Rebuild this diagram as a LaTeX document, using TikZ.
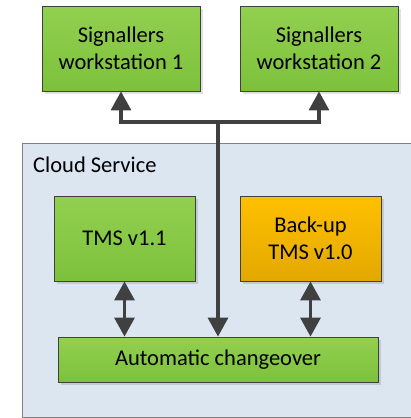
\documentclass[tikz,border=0pt]{standalone}
\usepackage{fontspec}
\setmainfont{Carlito}
\usetikzlibrary{arrows.meta,shadows}
\definecolor{boxgreen}{HTML}{92D050}
\definecolor{boxgreendk}{HTML}{7DC13B}
\definecolor{boxorange}{HTML}{FFC000}
\definecolor{boxorangedk}{HTML}{E2A800}
\definecolor{cloudfill}{HTML}{DCE6F1}
\definecolor{linegray}{HTML}{404040}
\tikzset{
    greenbox/.style={draw=linegray, line width=0.8pt, top color=boxgreen, bottom color=boxgreendk,
        align=center, inner sep=0pt, font=\fontsize{22.5}{27}\selectfont,
        drop shadow={shadow xshift=3pt, shadow yshift=-3pt, fill=black, opacity=0.12}},
    orangebox/.style={greenbox, top color=boxorange, bottom color=boxorangedk},
    arr/.style={draw=linegray, line width=3.2pt, -{Triangle[width=20pt,length=19pt]}},
    dblarr/.style={arr, {Triangle[width=20pt,length=19pt]}-{Triangle[width=20pt,length=19pt]}}
}
\begin{document}
\begin{tikzpicture}[x=1pt,y=-1pt]
    \useasboundingbox (0,0) rectangle (410,418);
    % cloud
    \draw[fill=cloudfill, draw=gray, line width=1pt] (22,143) rectangle (416,417);
    \node[anchor=north west, inner sep=0pt, font=\fontsize{22.5}{27}\selectfont] (cloud) at (33,157) {Cloud Service};
    % boxes
    \node[greenbox, minimum width=158pt, minimum height=85pt] (ws1) at (121,48.5) {Signallers\\workstation 1};
    \node[greenbox, minimum width=158pt, minimum height=85pt] (ws2) at (319,48.5) {Signallers\\workstation 2};
    \node[greenbox, minimum width=141pt, minimum height=85pt] (tms) at (124.5,238.5) {TMS v1.1};
    \node[orangebox, minimum width=141pt, minimum height=85pt] (backup) at (310.5,238.5) {Back-up\\TMS v1.0};
    \node[greenbox, minimum width=320pt, minimum height=45pt] (auto) at (218,359.5) {Automatic changeover};
    % arrows
    \coordinate (split) at (218,122);
    \draw[arr] (split) -| (ws1.south);
    \draw[arr] (split) -| (ws2.south);
    \draw[arr] (split) -- (auto.north);
    \draw[dblarr] (tms.south) -- (auto.north -| tms.south);
    \draw[dblarr] (backup.south) -- (auto.north -| backup.south);
\end{tikzpicture}
\end{document}
